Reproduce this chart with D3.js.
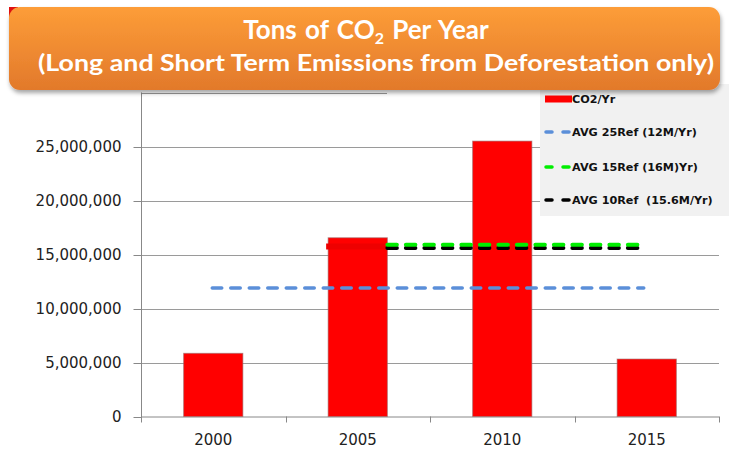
<!DOCTYPE html>
<html>
<head>
<meta charset="utf-8">
<script src="https://cdn.jsdelivr.net/npm/d3@7"></script>
<style>
body { margin:0; background:#fff; }
svg { display:block; }
.y-axis text, .x-axis text {
  font-family:"DejaVu Sans", Verdana, sans-serif;
  font-size:15px;
  fill:#222;
}
.y-axis path, .x-axis path { stroke:none; }
.y-axis line { stroke:#888; }
.legend text {
  font-family:"DejaVu Sans", Verdana, sans-serif;
  font-weight:bold;
  font-size:11.2px;
  fill:#111;
  white-space:pre;
}
.title {
  font-family:Lato, "Open Sans", sans-serif;
  font-weight:bold;
  fill:#fff;
}
</style>
</head>
<body>
<script>

//Data
var years = ["2000", "2005", "2010", "2015"];
var co2 = [5850000, 16550000, 25500000, 5320000];
var avg25 = [11900000, 11900000, 11900000, 11900000];
var avg15 = [15900000, 15900000, 15900000];
var avg10 = [15600000, 15600000, 15600000];
var yTicks = [0, 5000000, 10000000, 15000000, 20000000, 25000000, 30000000];
var legendLabels = ["CO2/Yr", "AVG 25Ref (12M/Yr)", "AVG 15Ref (16M)Yr)", "AVG 10Ref  (15.6M/Yr)"];
var legendColors = ["#ff0000", "#5b8fd9", "#00ee00", "#000000"];

var W = 729, H = 451;

var svg = d3.select("body").append("svg")
    .attr("width", W)
    .attr("height", H);

var defs = svg.append("defs");
var grad = defs.append("linearGradient")
    .attr("id", "titleGrad")
    .attr("x1", 0).attr("y1", 0).attr("x2", 0).attr("y2", 1);
grad.append("stop").attr("offset", "0%").attr("stop-color", "#fd9d38");
grad.append("stop").attr("offset", "100%").attr("stop-color", "#e2792b");

var shadow = defs.append("filter").attr("id", "shadow")
    .attr("x", "-5%").attr("y", "-20%").attr("width", "110%").attr("height", "150%");
shadow.append("feDropShadow")
    .attr("dx", 1).attr("dy", 3)
    .attr("stdDeviation", 2)
    .attr("flood-color", "#000")
    .attr("flood-opacity", 0.35);

//Scales
var x = d3.scaleBand()
    .domain(years)
    .range([141, 719])
    .paddingInner(0.59)
    .paddingOuter(0.295);

var y = d3.scaleLinear()
    .domain([0, 30000000])
    .range([416.5, 92.5]);

//Gridlines
svg.append("g")
    .selectAll("line")
    .data(yTicks.slice(1))
    .enter()
    .append("line")
    .attr("x1", 141).attr("x2", d => d === 30000000 ? 387 : 719)
    .attr("y1", d => Math.round(y(d)) + 0.5)
    .attr("y2", d => Math.round(y(d)) + 0.5)
    .attr("stroke", "#9a9a9a")
    .attr("stroke-width", 1);

//Y axis
svg.append("g")
    .attr("class", "y-axis")
    .attr("transform", "translate(141.5,0.5)")
    .call(d3.axisLeft(y)
        .tickValues(yTicks.slice(0, 6))
        .tickFormat(d3.format(","))
        .tickSize(8)
        .tickPadding(12));

svg.append("line")
    .attr("x1", 141.5).attr("x2", 141.5)
    .attr("y1", y(30000000)).attr("y2", y(0) + 1)
    .attr("stroke", "#888");

//X axis
var xg = svg.append("g")
    .attr("class", "x-axis")
    .attr("transform", `translate(0, ${y(0)})`);

xg.call(d3.axisBottom(x).tickSize(0).tickPadding(18));

xg.append("line")
    .attr("x1", 141).attr("x2", 719)
    .attr("y1", 0.5).attr("y2", 0.5)
    .attr("stroke", "#888");

xg.selectAll(".bound")
    .data(d3.range(years.length + 1))
    .enter()
    .append("line")
    .attr("class", "bound")
    .attr("x1", i => Math.round(x.range()[0] + i * x.step()) + 0.5)
    .attr("x2", i => Math.round(x.range()[0] + i * x.step()) + 0.5)
    .attr("y1", 0).attr("y2", 6)
    .attr("stroke", "#888");

//Bars
svg.append("g")
    .selectAll("rect")
    .data(co2)
    .enter()
    .append("rect")
    .attr("x", (d, i) => x(years[i]))
    .attr("y", d => y(d))
    .attr("width", x.bandwidth())
    .attr("height", d => y(0) - y(d))
    .attr("fill", "#ff0000")
    .attr("stroke", "#9a6a6a")
    .attr("stroke-opacity", 0.6)
    .attr("stroke-width", 1);

//Red stub on the 2005 bar
svg.append("line")
    .attr("x1", x("2005") - 2)
    .attr("x2", x("2005") + x.bandwidth())
    .attr("y1", y(15750000)).attr("y2", y(15750000))
    .attr("stroke", "#ee0000")
    .attr("stroke-width", 6);

//Average lines
function avgLine(vals, color, width, startX) {
    var yrs = years.slice(years.length - vals.length);
    var pts = vals.map((v, i) => [i === 0 ? startX : x(yrs[i]) + x.bandwidth() / 2 - 3, y(v)]);
    svg.append("path")
        .attr("d", d3.line()(pts))
        .attr("fill", "none")
        .attr("stroke", color)
        .attr("stroke-width", width)
        .attr("stroke-linecap", "round")
        .attr("stroke-dasharray", "9.5,9");
}

avgLine(avg25, legendColors[1], 3.5, x("2000") + x.bandwidth() / 2 - 1);
avgLine(avg10, legendColors[3], 4, x("2005") + x.bandwidth());
avgLine(avg15, legendColors[2], 4, x("2005") + x.bandwidth());

//Legend
var lg = svg.append("g").attr("class", "legend");

lg.append("rect")
    .attr("x", 540).attr("y", 84)
    .attr("width", 195).attr("height", 132)
    .attr("fill", "#f1f1f1");

var legendY = [99, 132, 167, 200];

lg.append("rect")
    .attr("x", 545).attr("y", legendY[0] - 3.5)
    .attr("width", 27).attr("height", 7)
    .attr("fill", legendColors[0]);

lg.selectAll(".ldash")
    .data(legendColors.slice(1))
    .enter()
    .append("line")
    .attr("class", "ldash")
    .attr("x1", 546).attr("x2", 571)
    .attr("y1", (d, i) => legendY[i + 1])
    .attr("y2", (d, i) => legendY[i + 1])
    .attr("stroke", d => d)
    .attr("stroke-width", 3.5)
    .attr("stroke-linecap", "round")
    .attr("stroke-dasharray", "6,11");

lg.selectAll("text")
    .data(legendLabels)
    .enter()
    .append("text")
    .attr("x", 572)
    .attr("y", (d, i) => legendY[i])
    .attr("dy", "0.36em")
    .text(d => d);

//Title box
svg.append("rect")
    .attr("x", 9).attr("y", 7)
    .attr("width", 9).attr("height", 10)
    .attr("fill", "#e01010");

svg.append("rect")
    .attr("x", 9).attr("y", 7)
    .attr("width", 711).attr("height", 83)
    .attr("rx", 11)
    .attr("fill", "url(#titleGrad)")
    .attr("filter", "url(#shadow)");

var t1 = svg.append("text")
    .attr("class", "title")
    .attr("x", 366).attr("y", 39)
    .attr("text-anchor", "middle")
    .style("font-size", "26px")
    .style("word-spacing", "2px");
t1.append("tspan").text("Tons of CO");
t1.append("tspan").attr("dy", 5).style("font-size", "16px").text("2");
t1.append("tspan").attr("dy", -5).text(" Per Year");

svg.append("text")
    .attr("class", "title")
    .attr("x", 376).attr("y", 71)
    .attr("text-anchor", "middle")
    .attr("textLength", 676)
    .attr("lengthAdjust", "spacingAndGlyphs")
    .style("font-size", "23px")
    .text("(Long and Short Term Emissions from Deforestation only)");

</script>
</body>
</html>
